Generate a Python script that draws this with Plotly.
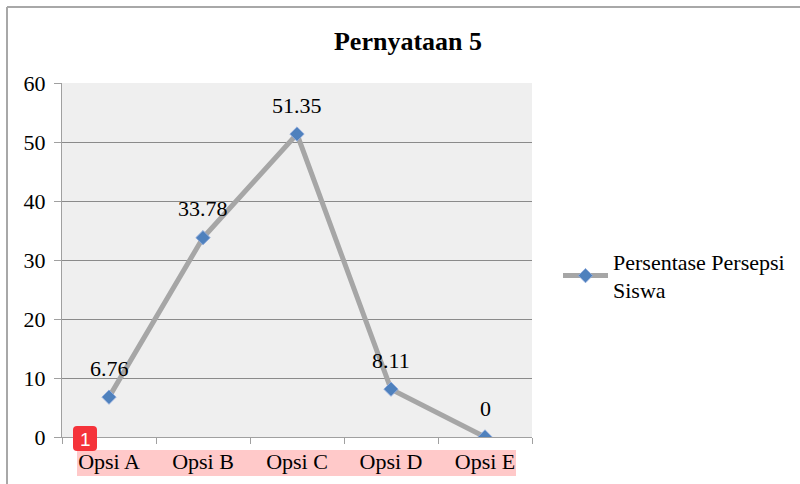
import plotly.graph_objects as go

categories = ["Opsi A", "Opsi B", "Opsi C", "Opsi D", "Opsi E"]
values = [6.76, 33.78, 51.35, 8.11, 0]
value_labels = ["6.76", "33.78", "51.35", "8.11", "0"]
series_name = "Persentase Persepsi<br>Siswa"
title_text = "<b>Pernyataan 5</b>"
y_ticks = [0, 10, 20, 30, 40, 50, 60]

FONT = "Liberation Serif, Times New Roman, serif"

# plot-area pixel frame (page coords)
L, R, T, B = 62, 532, 83, 437


def px(x):
    return (x - L) / (R - L)


def py(y):
    return (B - y) / (B - T)


fig = go.Figure()
fig.add_trace(go.Scatter(
    x=list(range(len(categories))), y=values, mode="lines+markers",
    name=series_name,
    line=dict(color="#a6a6a6", width=5),
    marker=dict(symbol="diamond", size=11, color="#4f81bd",
                line=dict(color="#8eaadb", width=1)),
))

for i, (v, t) in enumerate(zip(values, value_labels)):
    fig.add_annotation(x=i, y=v, text=t, showarrow=False, yshift=29,
                       font=dict(family=FONT, size=22, color="#000000"))

# pink highlight behind category labels
fig.add_shape(type="rect", xref="paper", yref="paper",
              x0=px(77), x1=px(516), y0=py(476), y1=py(450),
              fillcolor="#ffc9c9", line=dict(width=0), layer="below")
# chart outer border (top and left)
fig.add_shape(type="line", xref="paper", yref="paper",
              x0=px(7), x1=px(800), y0=py(7), y1=py(7),
              line=dict(color="#a8a8a8", width=2))
fig.add_shape(type="line", xref="paper", yref="paper",
              x0=px(7), x1=px(7), y0=py(7), y1=py(484),
              line=dict(color="#a8a8a8", width=2))
# red rounded badge
bx0, bx1, by0, by1, r = 73, 97, 426, 451, 4
path = (f"M {px(bx0 + r)},{py(by0)} L {px(bx1 - r)},{py(by0)} "
        f"Q {px(bx1)},{py(by0)} {px(bx1)},{py(by0 + r)} "
        f"L {px(bx1)},{py(by1 - r)} Q {px(bx1)},{py(by1)} {px(bx1 - r)},{py(by1)} "
        f"L {px(bx0 + r)},{py(by1)} Q {px(bx0)},{py(by1)} {px(bx0)},{py(by1 - r)} "
        f"L {px(bx0)},{py(by0 + r)} Q {px(bx0)},{py(by0)} {px(bx0 + r)},{py(by0)} Z")
fig.add_shape(type="path", xref="paper", yref="paper", path=path,
              fillcolor="#f5333a", line=dict(width=0), layer="above")
fig.add_annotation(xref="paper", yref="paper", x=px(85), y=py(439),
                   text="1", showarrow=False, xanchor="center", yanchor="middle",
                   font=dict(family="Liberation Sans, Arial", size=19, color="white"))

fig.update_layout(
    width=800, height=484,
    margin=dict(l=L, r=800 - R, t=T, b=484 - B, autoexpand=False),
    paper_bgcolor="white", plot_bgcolor="#efefef",
    font=dict(family=FONT, size=22, color="#000000"),
    title=dict(text=title_text, x=408 / 800, xref="container", xanchor="center",
               y=1 - 41 / 484, yanchor="middle",
               font=dict(family=FONT, size=26, color="#000000")),
    showlegend=True,
    legend=dict(x=px(558), y=py(276), xanchor="left", yanchor="middle",
                font=dict(family=FONT, size=22, color="#000000"),
                bgcolor="rgba(0,0,0,0)", itemwidth=45),
)
fig.update_xaxes(range=[-0.5, 4.5], tickmode="array",
                 tickvals=list(range(len(categories))), ticktext=categories,
                 showgrid=False, zeroline=False, showline=True,
                 linecolor="#a0a0a0", linewidth=1, ticks="", ticklabelstandoff=5,
                 fixedrange=True)
fig.update_xaxes(minor=dict(tickmode="array", tickvals=[-0.5, 0.5, 1.5, 2.5, 3.5, 4.5],
                            ticks="outside", ticklen=6, tickcolor="#a0a0a0", showgrid=False))
fig.update_yaxes(range=[0, 60], tickmode="array", tickvals=y_ticks,
                 showgrid=True, gridcolor="#8a8a8a", gridwidth=1,
                 zeroline=False, showline=True, linecolor="#a0a0a0", linewidth=1,
                 ticks="outside", ticklen=7, tickcolor="#a0a0a0",
                 ticklabelstandoff=4, fixedrange=True)

fig.write_html("out.html", config={"displayModeBar": False},
               post_script="document.body.style.margin='0';")
